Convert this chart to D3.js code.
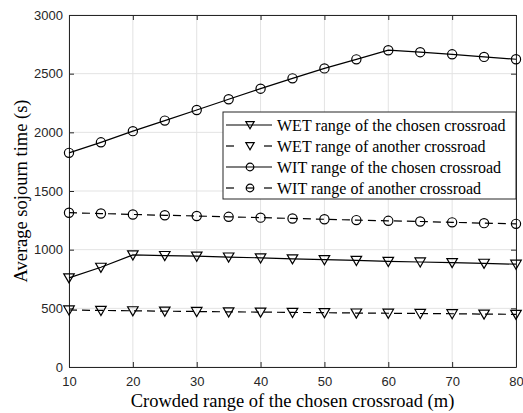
<!DOCTYPE html>
<html>
<head>
<meta charset="utf-8">
<script src="https://cdn.jsdelivr.net/npm/d3@7"></script>
<style>
  body { margin: 0; background: #fff; }
  svg { display: block; }
</style>
</head>
<body>
<div id="chart"></div>
<script>
// crowded range (m)
const ranges = [10, 15, 20, 25, 30, 35, 40, 45, 50, 55, 60, 65, 70, 75, 80];

// average sojourn time (s)
const wetChosen  = [760, 850, 955, 950, 945, 937, 930, 922, 915, 908, 900, 895, 890, 884, 876];
const wetAnother = [486, 482, 479, 476, 473, 470, 468, 465, 463, 460, 458, 456, 454, 451, 449];
const witChosen  = [1825, 1915, 2010, 2100, 2190, 2282, 2372, 2460, 2545, 2622, 2700, 2683, 2665, 2643, 2623];
const witAnother = [1315, 1308, 1300, 1293, 1287, 1280, 1273, 1266, 1259, 1252, 1246, 1240, 1233, 1226, 1220];

const xTicks = [10, 20, 30, 40, 50, 60, 70, 80];
const yTicks = [0, 500, 1000, 1500, 2000, 2500, 3000];

const seriesNames = [
    "WET range of the chosen crossroad",
    "WET range of another crossroad",
    "WIT range of the chosen crossroad",
    "WIT range of another crossroad"
];

const series = [
    { name: seriesNames[0], values: wetChosen,  dashed: false, marker: "tri" },
    { name: seriesNames[1], values: wetAnother, dashed: true,  marker: "tri" },
    { name: seriesNames[2], values: witChosen,  dashed: false, marker: "circle" },
    { name: seriesNames[3], values: witAnother, dashed: true,  marker: "circle" }
];

const W = 523, H = 413;
const plotL = 69, plotR = 516, plotT = 15, plotB = 367;

const svg = d3.select("#chart")
    .append("svg")
    .attr("width", W)
    .attr("height", H);

const xScale = d3.scaleLinear().domain([10, 80]).range([plotL, plotR]);
const yScale = d3.scaleLinear().domain([0, 3000]).range([plotB, plotT]);

// grid
svg.append("g")
    .selectAll("line")
    .data(xTicks)
    .enter()
    .append("line")
    .attr("x1", d => xScale(d)).attr("x2", d => xScale(d))
    .attr("y1", plotT).attr("y2", plotB)
    .attr("stroke", "#e3e3e3").attr("stroke-width", 1);

svg.append("g")
    .selectAll("line")
    .data(yTicks)
    .enter()
    .append("line")
    .attr("x1", plotL).attr("x2", plotR)
    .attr("y1", d => yScale(d)).attr("y2", d => yScale(d))
    .attr("stroke", "#e3e3e3").attr("stroke-width", 1);

// axes (ticks pointing inward)
const axisColor = "#262626";
const xAxis = d3.axisBottom(xScale).tickValues(xTicks).tickFormat(d3.format("d"))
    .tickSizeInner(-5).tickSizeOuter(0).tickPadding(10);
const yAxis = d3.axisLeft(yScale).tickValues(yTicks).tickFormat(d3.format("d"))
    .tickSizeInner(-5).tickSizeOuter(0).tickPadding(6);

function styleAxis(g) {
    g.select(".domain").attr("stroke", axisColor);
    g.selectAll(".tick line").attr("stroke", axisColor);
    g.selectAll(".tick text")
        .attr("fill", axisColor)
        .style("font-family", "'Liberation Sans', Arial, sans-serif")
        .style("font-size", "13px");
}

svg.append("g").attr("transform", `translate(0, ${plotB})`).call(xAxis).call(styleAxis);
svg.append("g").attr("transform", `translate(${plotL}, 0)`).call(yAxis).call(styleAxis);

// top and right box edges with ticks
svg.append("g").attr("transform", `translate(0, ${plotT})`)
    .call(d3.axisTop(xScale).tickValues(xTicks).tickSizeInner(-5).tickSizeOuter(0).tickFormat(""))
    .call(styleAxis);
svg.append("g").attr("transform", `translate(${plotR}, 0)`)
    .call(d3.axisRight(yScale).tickValues(yTicks).tickSizeInner(-5).tickSizeOuter(0).tickFormat(""))
    .call(styleAxis);

// lines
const line = d3.line()
    .x((d, i) => xScale(ranges[i]))
    .y(d => yScale(d));

const triPath = d3.symbol().type(d3.symbolTriangle).size(48)();
const dash = "8,5";

series.forEach(s => {
    svg.append("path")
        .datum(s.values)
        .attr("d", line)
        .attr("fill", "none")
        .attr("stroke", "#000")
        .attr("stroke-width", 1.2)
        .attr("stroke-dasharray", s.dashed ? dash : null);

    const pts = svg.append("g")
        .selectAll("g")
        .data(s.values)
        .enter()
        .append("g")
        .attr("transform", (d, i) => `translate(${xScale(ranges[i])}, ${yScale(d)})`);

    if (s.marker === "circle") {
        pts.append("circle")
            .attr("r", 4.6)
            .attr("fill", "none")
            .attr("stroke", "#000")
            .attr("stroke-width", 1.2);
    } else {
        pts.append("path")
            .attr("d", triPath)
            .attr("transform", "rotate(180) translate(0, 1)")
            .attr("fill", "none")
            .attr("stroke", "#000")
            .attr("stroke-width", 1.2);
    }
});

// legend
const lgX = 223, lgY = 112, lgW = 293, lgH = 87, rowH = 21;
const legend = svg.append("g");
legend.append("rect")
    .attr("x", lgX).attr("y", lgY)
    .attr("width", lgW).attr("height", lgH)
    .attr("fill", "#fff")
    .attr("stroke", axisColor)
    .attr("stroke-width", 1);

const smallTri = d3.symbol().type(d3.symbolTriangle).size(30)();

series.forEach((s, i) => {
    const cy = lgY + 13 + i * rowH;
    const row = legend.append("g").attr("transform", `translate(0, ${cy})`);
    if (s.dashed) {
        row.append("line").attr("x1", lgX + 3).attr("x2", lgX + 11).attr("y1", 0).attr("y2", 0)
            .attr("stroke", "#000").attr("stroke-width", 1.2);
        row.append("line").attr("x1", lgX + 41).attr("x2", lgX + 49).attr("y1", 0).attr("y2", 0)
            .attr("stroke", "#000").attr("stroke-width", 1.2);
    } else {
        row.append("line").attr("x1", lgX + 3).attr("x2", lgX + 49).attr("y1", 0).attr("y2", 0)
            .attr("stroke", "#000").attr("stroke-width", 1.2);
    }
    const mx = lgX + 27;
    if (s.marker === "circle") {
        row.append("circle").attr("cx", mx).attr("cy", 0).attr("r", 3.8)
            .attr("fill", "none").attr("stroke", "#000").attr("stroke-width", 1.2);
        if (s.dashed) {
            row.append("line").attr("x1", mx - 4).attr("x2", mx + 4).attr("y1", 0).attr("y2", 0)
                .attr("stroke", "#000").attr("stroke-width", 1.2);
        }
    } else {
        row.append("path").attr("d", smallTri)
            .attr("transform", `translate(${mx}, 0) rotate(180) translate(0, 1)`)
            .attr("fill", "none").attr("stroke", "#000").attr("stroke-width", 1.2);
    }
    row.append("text")
        .attr("x", lgX + 54)
        .attr("y", 0)
        .attr("dy", "0.35em")
        .style("font-family", "'Liberation Serif', 'Times New Roman', serif")
        .style("font-size", "16px")
        .attr("fill", "#000")
        .text(s.name);
});

// axis labels
svg.append("text")
    .attr("text-anchor", "middle")
    .attr("x", (plotL + plotR) / 2)
    .attr("y", 407)
    .style("font-family", "'Liberation Serif', 'Times New Roman', serif")
    .style("font-size", "18.5px")
    .attr("fill", "#000")
    .text("Crowded range of the chosen crossroad (m)");

svg.append("text")
    .attr("text-anchor", "middle")
    .attr("transform", `translate(27, ${(plotT + plotB) / 2}) rotate(-90)`)
    .style("font-family", "'Liberation Serif', 'Times New Roman', serif")
    .style("font-size", "18.5px")
    .attr("fill", "#000")
    .text("Average sojourn time (s)");
</script>
</body>
</html>
